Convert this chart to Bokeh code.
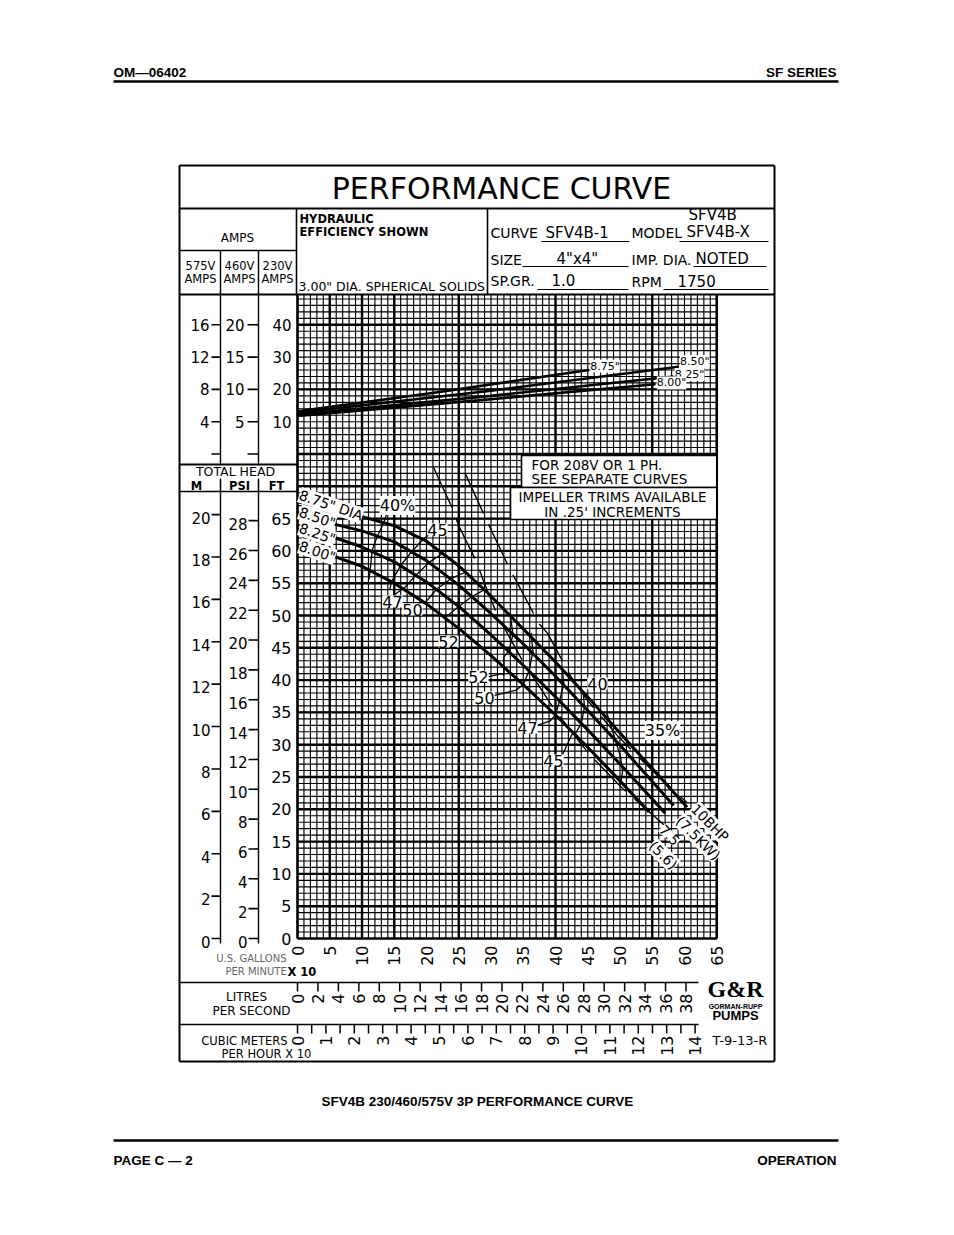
import numpy as np
from bokeh.plotting import figure
from bokeh.models import Range1d
from bokeh.core.properties import value
from bokeh.embed import file_html
from bokeh.resources import INLINE

# ------------------------------------------------------------------ data
# capacity axis is U.S. GPM x 10, head axis is feet
gpm_x10_ticks = [0, 5, 10, 15, 20, 25, 30, 35, 40, 45, 50, 55, 60, 65]
lps_ticks = [0, 2, 4, 6, 8, 10, 12, 14, 16, 18, 20, 22, 24, 26, 28, 30, 32, 34, 36, 38]
m3h_x10_ticks = [0, 1, 2, 3, 4, 5, 6, 7, 8, 9, 10, 11, 12, 13, 14]
m3h_x10_half_ticks = [0.5, 1.5, 2.5, 3.5, 4.5, 5.5, 6.5, 7.5, 8.5, 9.5, 10.5, 11.5, 12.5, 13.5]
ft_ticks = [0, 5, 10, 15, 20, 25, 30, 35, 40, 45, 50, 55, 60, 65]
psi_ticks = [0, 2, 4, 6, 8, 10, 12, 14, 16, 18, 20, 22, 24, 26, 28]
m_ticks = [0, 2, 4, 6, 8, 10, 12, 14, 16, 18, 20]
amps_230_ticks = [10, 20, 30, 40]
amps_460_ticks = [5, 10, 15, 20]
amps_575_ticks = [4, 8, 12, 16]

diameters = ['8.75"', '8.50"', '8.25"', '8.00"']

# head-capacity curves (x = GPM/10, y = ft)
head_x_875 = [0, 5, 10, 15, 20, 25, 30, 35, 40, 45, 50, 55, 60.4]
head_y_875 = [67.6, 66.5, 65.3, 63.9, 61.5, 57.7, 53.0, 47.9, 42.8, 37.4, 31.8, 26.3, 20.3]
head_x_850 = [0, 5, 10, 15, 20, 25, 30, 35, 40, 45, 50, 55, 58.3]
head_y_850 = [65.2, 64.3, 63.1, 61.4, 58.5, 54.7, 50.3, 45.6, 40.6, 35.3, 29.9, 24.3, 20.6]
head_x_825 = [0, 5, 10, 15, 20, 25, 30, 35, 40, 45, 50, 55, 57.0]
head_y_825 = [63.2, 62.3, 60.6, 58.3, 55.2, 51.4, 47.0, 42.3, 37.4, 32.3, 27.0, 21.6, 19.4]
head_x_800 = [0, 5, 10, 15, 20, 25, 30, 35, 40, 45, 50, 54.5]
head_y_800 = [60.4, 59.4, 57.6, 55.0, 51.8, 48.0, 43.8, 39.3, 34.6, 29.6, 24.4, 19.6]

# 230 V amps curves
amp_x_875 = [0, 22, 45.2]
amp_a_875 = [13.2, 19.2, 26.0]
amp_x_850 = [0, 30, 59.1]
amp_a_850 = [12.8, 19.6, 27.0]
amp_x_825 = [0, 30, 58.3]
amp_a_825 = [12.2, 18.0, 24.0]
amp_x_800 = [0, 28, 55.5]
amp_a_800 = [11.8, 16.6, 21.6]

# brake horsepower lines
bhp_labels = [("10BHP", "(7.5KW)"), ("7.5", "(5.6)")]
bhp10_x = [26.0, 29.1, 29.9, 33.0, 34.1, 37.4, 38.8, 42.3, 45.0, 49.6, 54.5, 60.4]
bhp10_y = [72.0, 65.2, 63.5, 57.0, 55.0, 48.8, 47.2, 40.7, 36.8, 31.4, 26.5, 21.0]
bhp75_x = [21.1, 24.0, 25.0, 27.9, 28.7, 31.0, 35.0, 40.0, 45.0, 50.0, 55.0, 56.8]
bhp75_y = [72.9, 66.6, 63.9, 58.0, 55.7, 50.0, 42.8, 35.2, 28.8, 23.6, 19.2, 17.6]

# hydraulic efficiency iso-lines (label, x points, y points)
eff_lines = [
    ("40%", [14.0, 13.3, 12.4, 11.6, 11.1], [66.2, 64.2, 62.3, 60.2, 55.6]),
    ("45", [20.6, 19.5, 17.9, 16.1, 14.6, 14.3], [62.7, 61.8, 60.1, 57.9, 55.3, 54.0]),
    ("47", [22.5, 20.5, 18.5, 16.6, 15.0], [59.6, 58.3, 56.4, 54.3, 53.2]),
    ("50", [26.0, 23.8, 21.6, 19.8, 18.6], [56.7, 55.7, 54.1, 52.0, 51.9]),
    ("52", [29.0, 27.0, 25.0, 22.9, 23.1], [54.0, 52.9, 51.4, 49.7, 47.0]),
    ("52", [29.5, 31.7, 32.0, 32.0, 32.8, 33.4, 33.0], [40.5, 41.0, 40.7, 43.6, 44.5, 47.1, 50.0]),
    ("50", [30.4, 33.8, 35.0, 35.9, 36.5, 36.2], [37.6, 38.4, 39.3, 41.4, 44.5, 47.3]),
    ("47", [37.2, 39.2, 40.0, 40.6, 41.3, 41.0], [33.0, 33.7, 34.6, 36.7, 39.4, 42.0]),
    ("45", [41.0, 42.6, 43.0, 44.0, 44.5, 44.3], [28.3, 31.7, 31.6, 33.3, 35.8, 38.1]),
    ("40", [48.0, 50.1, 50.4, 50.0], [34.8, 28.1, 25.8, 23.6]),
    ("35%", [56.0, 56.0], [30.9, 25.4]),
]
eff_label_pos_px = [(397, 505), (437, 529), (392, 601), (412, 609), (448, 641),
                    (478, 676), (484, 697), (527, 727), (553, 760), (597, 683), (662, 730)]

# unit conversions of the secondary scales into chart units
FT_PER_M = 1 / 0.3048
FT_PER_PSI = 2.31
GPM10_PER_LPS = 1.585
GPM10_PER_M3H10 = 4.403
AMP_ZERO_FT = 75.0
FT_PER_AMP_230, FT_PER_AMP_460, FT_PER_AMP_575 = 0.5, 1.0, 1.25

# ------------------------------------------------------------------ figure
W, H = 938, 1219


def X(px):
    return (px - 297.0) / 6.45


def Y(py):
    return (938.0 - py) / 6.46


p = figure(width=W, height=H, x_range=Range1d(X(0), X(W)), y_range=Range1d(Y(H), Y(0)),
           output_backend="svg", toolbar_location=None, min_border=0,
           x_axis_location=None, y_axis_location=None, outline_line_color=None,
           background_fill_color="white", border_fill_color="white")
p.grid.visible = False

CAD = "DejaVu Sans"
ARIAL = "Liberation Sans"


def txt(px, py, s, size, align="left", baseline="middle", angle=0.0, font=CAD,
        style="normal", color="black", bg=None):
    kw = {}
    if bg:
        kw["background_fill_color"] = bg
    p.text(x=[X(px)], y=[Y(py)], text=[s], text_font=value(font),
           text_font_size=value(f"{size}px"), text_align=align, text_baseline=baseline,
           angle=angle, text_font_style=style, text_color=color, **kw)


def hline_px(x0, x1, py, w=1.5):
    p.segment(x0=[X(x0)], y0=[Y(py)], x1=[X(x1)], y1=[Y(py)], line_color="black", line_width=w)


def vline_px(px, y0, y1, w=1.5):
    p.segment(x0=[X(px)], y0=[Y(y0)], x1=[X(px)], y1=[Y(y1)], line_color="black", line_width=w)


# ---------------- grid
GX = 65
GY = Y(294)
mx = np.arange(0, GX + 1)
p.segment(x0=mx, y0=0, x1=mx, y1=GY, line_color="black", line_width=1.15)
my = np.arange(1, 100)
p.segment(x0=0, y0=my, x1=GX, y1=my, line_color="black", line_width=1.15)
major_x = np.array([5, 10, 15, 25, 40, 55])
p.segment(x0=major_x, y0=0, x1=major_x, y1=GY, line_color="black", line_width=2.4)
major_y = np.array([5, 10, 15, 20, 25, 30, 35, 40, 45, 50, 55, 60, 65, 70, 75, 85, 95])
p.segment(x0=0, y0=major_y, x1=GX, y1=major_y, line_color="black", line_width=2.4)
p.segment(x0=[0, 0, GX], y0=[0, 0, 0], x1=[GX, 0, GX], y1=[0, GY, GY], line_color="black", line_width=2.6)

# notice boxes
p.quad(left=[X(521)], right=[GX], top=[Y(455)], bottom=[Y(487)], fill_color="white",
       line_color="black", line_width=1.6)
p.quad(left=[X(510)], right=[GX], top=[Y(487)], bottom=[Y(519)], fill_color="white",
       line_color="black", line_width=1.6)
txt(531, 464, "FOR 208V OR 1 PH.", 13.5)
txt(531, 478, "SEE SEPARATE CURVES", 13.5)
txt(612, 496, "IMPELLER TRIMS AVAILABLE", 13.5, align="center")
txt(612, 511, "IN .25' INCREMENTS", 13.5, align="center")

# ---------------- frame
for (a, b, c, d, w) in [(179, 165, 774, 165, 2), (179, 1061, 774, 1061, 2),
                        (179, 208, 774, 208, 2), (179, 294, 774, 294, 2)]:
    hline_px(a, c, b, w)
vline_px(179, 165, 1061, 2)
vline_px(774, 165, 1061, 2)
vline_px(296, 208, 294, 1.6)
vline_px(487, 208, 294, 1.6)
hline_px(179, 296, 250, 1.6)
for cx in (220, 258):
    vline_px(cx, 250, 464, 1.4)
    vline_px(cx, 478, 943, 1.4)
hline_px(179, 297, 464, 2)
hline_px(179, 297, 491, 1.6)
hline_px(179, 698, 982, 1.6)
hline_px(179, 698, 1024, 1.6)

# header texts
txt(501, 188, "PERFORMANCE CURVE", 30, align="center")
txt(237, 237, "AMPS", 12, align="center")
for cx, v in ((200, "575V"), (239, "460V"), (277, "230V")):
    txt(cx, 265, v, 11.5, align="center")
    txt(cx, 278, "AMPS", 11.5, align="center")
txt(299, 218, "HYDRAULIC", 11.5, style="bold")
txt(299, 231, "EFFICIENCY  SHOWN", 11.5, style="bold")
txt(298, 286, '3.00" DIA. SPHERICAL  SOLIDS', 12.5)
txt(490, 232, "CURVE", 14)
txt(545, 232, "SFV4B-1", 15)
txt(631, 232, "MODEL", 14)
txt(688, 214, "SFV4B", 15)
txt(686, 231, "SFV4B-X", 15)
txt(490, 259, "SIZE", 14)
txt(556, 258, '4"x4"', 15)
txt(631, 259, "IMP. DIA.", 14)
txt(695, 258, "NOTED", 15)
txt(490, 280, "SP.GR.", 14)
txt(551, 279, "1.0", 15)
txt(631, 281, "RPM", 14)
txt(677, 280, "1750", 15)
for (a, b, yy) in [(541, 629, 241), (679, 768, 241), (522, 628, 266), (693, 766, 266),
                   (537, 628, 289), (663, 768, 289)]:
    hline_px(a, b, yy, 1.1)

# head header
txt(237, 471, "TOTAL  HEAD", 12.5, align="center")
txt(196, 485, "M", 11.5, align="center", style="bold")
txt(239, 485, "PSI", 11.5, align="center", style="bold")
txt(276, 485, "FT", 11.5, align="center", style="bold")
vline_px(220, 479, 491, 1.2)
vline_px(258, 479, 491, 1.2)

# ---------------- left scales
dash_kw = dict(line_color="black", line_width=1.6)
y230 = [AMP_ZERO_FT + a * FT_PER_AMP_230 for a in amps_230_ticks]
y460 = [AMP_ZERO_FT + a * FT_PER_AMP_460 for a in amps_460_ticks]
y575 = [AMP_ZERO_FT + a * FT_PER_AMP_575 for a in amps_575_ticks]
p.text(x=X(291), y=y230, text=[str(a) for a in amps_230_ticks], text_font=value(CAD),
       text_font_size=value("15px"), text_align="right", text_baseline="middle")
p.text(x=X(244), y=y460, text=[str(a) for a in amps_460_ticks], text_font=value(CAD),
       text_font_size=value("15px"), text_align="right", text_baseline="middle")
p.text(x=X(209), y=y575, text=[str(a) for a in amps_575_ticks], text_font=value(CAD),
       text_font_size=value("15px"), text_align="right", text_baseline="middle")
p.segment(x0=X(247), y0=y460 + [AMP_ZERO_FT], x1=X(258), y1=y460 + [AMP_ZERO_FT], **dash_kw)
p.segment(x0=X(211), y0=y575 + [AMP_ZERO_FT], x1=X(220), y1=y575 + [AMP_ZERO_FT], **dash_kw)

off = 3 / 6.46
yft = list(ft_ticks)
ypsi = [v * FT_PER_PSI for v in psi_ticks]
ym = [v * FT_PER_M for v in m_ticks]
p.text(x=X(291), y=yft, text=[str(v) for v in ft_ticks], text_font=value(CAD),
       text_font_size=value("16px"), text_align="right", text_baseline="middle")
p.text(x=X(247), y=[v - off for v in ypsi], text=[str(v) for v in psi_ticks], text_font=value(CAD),
       text_font_size=value("15px"), text_align="right", text_baseline="middle")
p.segment(x0=X(248), y0=ypsi, x1=X(258), y1=ypsi, **dash_kw)
p.text(x=X(210), y=[v - off for v in ym], text=[str(v) for v in m_ticks], text_font=value(CAD),
       text_font_size=value("15px"), text_align="right", text_baseline="middle")
p.segment(x0=X(211), y0=ym, x1=X(220), y1=ym, **dash_kw)

# ---------------- bottom scales
p.text(x=gpm_x10_ticks, y=Y(945), text=[str(v) for v in gpm_x10_ticks], text_font=value(CAD),
       text_font_size=value("16px"), text_align="right", text_baseline="middle", angle=np.pi / 2)
xl = [v * GPM10_PER_LPS for v in lps_ticks]
p.segment(x0=xl, y0=Y(982), x1=xl, y1=Y(991), line_color="black", line_width=1.5)
p.text(x=xl, y=Y(993), text=[str(v) for v in lps_ticks], text_font=value(CAD),
       text_font_size=value("16px"), text_align="right", text_baseline="middle", angle=np.pi / 2)
xm = [v * GPM10_PER_M3H10 for v in m3h_x10_ticks]
xmh = [v * GPM10_PER_M3H10 for v in m3h_x10_half_ticks]
p.segment(x0=xm + xmh, y0=Y(1024), x1=xm + xmh, y1=Y(1033), line_color="black", line_width=1.5)
p.text(x=xm, y=Y(1035), text=[str(v) for v in m3h_x10_ticks], text_font=value(CAD),
       text_font_size=value("16px"), text_align="right", text_baseline="middle", angle=np.pi / 2)

txt(286, 958, "U.S. GALLONS", 10, align="right", color="#666666")
txt(225, 971, "PER MINUTE", 10, color="#666666")
txt(287, 971, "X 10", 11.5, style="bold")
txt(246, 996, "LITRES", 12, align="center")
txt(251, 1010, "PER SECOND", 12, align="center")
txt(287, 1040, "CUBIC METERS", 11.5, align="right")
txt(266, 1053, "PER HOUR X 10", 11.5, align="center")
txt(712, 1040, "T-9-13-R", 13)
txt(735, 988, "G&R", 24, align="center", font="Liberation Serif", style="bold")
txt(735, 1006, "GORMAN-RUPP", 7, align="center", font=ARIAL, style="bold")
txt(735, 1015, "PUMPS", 13, align="center", font=ARIAL, style="bold")

# ---------------- amps curves
amp_sets = [(amp_x_875, amp_a_875), (amp_x_850, amp_a_850), (amp_x_825, amp_a_825), (amp_x_800, amp_a_800)]
amp_label_dy = [0.6, 0.8, 0.3, 0.2]
for (ax, aa), name, dy in zip(amp_sets, diameters, amp_label_dy):
    ay = [AMP_ZERO_FT + a * FT_PER_AMP_230 for a in aa]
    p.line(ax, ay, line_color="black", line_width=2.6)
    p.text(x=[ax[-1] + 0.2], y=[ay[-1] + dy], text=[name], text_font=value(CAD),
           text_font_size=value("11px"), text_align="left", text_baseline="middle",
           background_fill_color="white")

# ---------------- BHP lines
p.line(bhp10_x, bhp10_y, line_color="black", line_width=1.4, line_dash="44 12")
p.line(bhp75_x, bhp75_y, line_color="black", line_width=1.4, line_dash="44 12")

# ---------------- efficiency iso-lines
for name, ex, ey in eff_lines:
    p.line(ex, ey, line_color="black", line_width=1.3)

# ---------------- head curves
head_sets = [(head_x_875, head_y_875), (head_x_850, head_y_850), (head_x_825, head_y_825), (head_x_800, head_y_800)]
for hx, hy in head_sets:
    p.line(hx, hy, line_color="black", line_width=3.0, line_join="round")

# curve labels at shut-off
ang = -0.33
txt(299, 494, '8.75" DIA', 14, angle=ang, bg="white")
txt(299, 511, '8.50"', 14, angle=ang, bg="white")
txt(299, 527, '8.25"', 14, angle=ang, bg="white")
txt(299, 545, '8.00"', 14, angle=ang, bg="white")

# efficiency labels
for (name, ex, ey), (lx, ly) in zip(eff_lines, eff_label_pos_px):
    txt(lx, ly, name, 16, align="center", bg="white")

# BHP labels
txt(693, 806, bhp_labels[0][0], 14, angle=-np.pi / 4, bg="white")
txt(678, 818, bhp_labels[0][1], 14, angle=-np.pi / 4, bg="white")
txt(661, 827, bhp_labels[1][0], 14, angle=-np.pi / 4, bg="white")
txt(651, 843, bhp_labels[1][1], 14, angle=-np.pi / 4, bg="white")

# ---------------- page header / footer
hline_px(113, 838, 81, 2.5)
hline_px(113, 838, 1140, 2.5)
txt(113, 72, "OM\u201406402", 13.5, font=ARIAL, style="bold")
txt(836, 72, "SF SERIES", 13.5, align="right", font=ARIAL, style="bold")
txt(477, 1101, "SFV4B 230/460/575V 3P PERFORMANCE CURVE", 13.5, align="center", font=ARIAL, style="bold")
txt(113, 1160, "PAGE C \u2014 2", 13.5, font=ARIAL, style="bold")
txt(836, 1160, "OPERATION", 13.5, align="right", font=ARIAL, style="bold")

open("out.html", "w").write(file_html(p, INLINE))
